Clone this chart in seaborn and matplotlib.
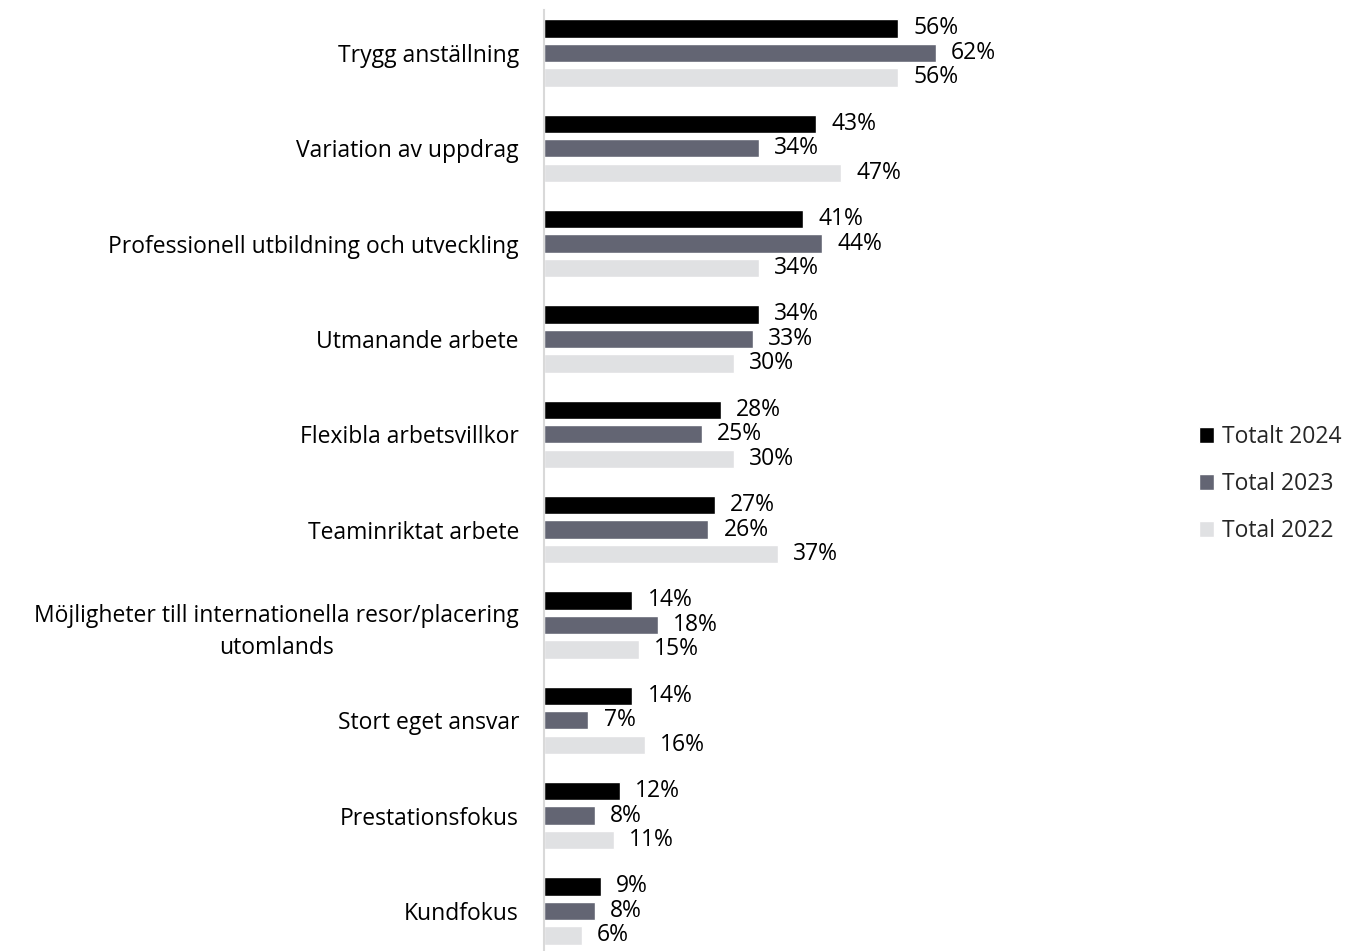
import pandas as pd
import matplotlib.pyplot as plt
import seaborn as sns

# Data
categories = [
    "Trygg anställning",
    "Variation av uppdrag",
    "Professionell utbildning och utveckling",
    "Utmanande arbete",
    "Flexibla arbetsvillkor",
    "Teaminriktat arbete",
    "Möjligheter till internationella resor/placering\nutomlands",
    "Stort eget ansvar",
    "Prestationsfokus",
    "Kundfokus",
]
series = ["Totalt 2024", "Total 2023", "Total 2022"]
totalt_2024 = [56, 43, 41, 34, 28, 27, 14, 14, 12, 9]
total_2023 = [62, 34, 44, 33, 25, 26, 18, 7, 8, 8]
total_2022 = [56, 47, 34, 30, 30, 37, 15, 16, 11, 6]
colors = ["#000000", "#636573", "#e0e1e3"]

df = pd.DataFrame({
    "kategori": categories * 3,
    "serie": [series[0]] * 10 + [series[1]] * 10 + [series[2]] * 10,
    "andel": totalt_2024 + total_2023 + total_2022,
})

sns.set_theme(style="white")
plt.rcParams["font.family"] = ["Open Sans", "DejaVu Sans"]
fs = 16.5

fig = plt.figure(figsize=(13.47, 9.51), dpi=100)
ax = fig.add_axes([544 / 1347, 0, (1150 - 544) / 1347, 1 - 10 / 951])

sns.barplot(data=df, x="andel", y="kategori", hue="serie", orient="h",
            palette=colors, width=0.77, gap=0.25, ax=ax, saturation=1)

for cont in ax.containers:
    ax.bar_label(cont, labels=[f"{v:.0f}%" for v in cont.datavalues],
                 padding=11, fontsize=fs, color="#000000")

ax.set_xlim(0, (1150 - 544) / 6.32)
ax.set_ylim(9.42, -0.45)
ax.set_xlabel("")
ax.set_ylabel("")
ax.set_xticks([])
ax.tick_params(axis="y", length=0, pad=18, labelsize=fs, labelcolor="#000000")
for lbl in ax.get_yticklabels():
    lbl.set_multialignment("center")
    lbl.set_linespacing(1.45)

for side in ["top", "right", "bottom"]:
    ax.spines[side].set_visible(False)
ax.spines["left"].set_color("#d9d9d9")
ax.spines["left"].set_linewidth(1.5)

ax.legend(loc="center left", bbox_to_anchor=(1190 / 1347, 1 - 484 / 951),
          bbox_transform=fig.transFigure, frameon=False, fontsize=fs,
          handlelength=0.65, handleheight=0.65, handletextpad=0.35,
          labelspacing=1.0, borderaxespad=0)

fig.savefig("out.png", dpi=100)
